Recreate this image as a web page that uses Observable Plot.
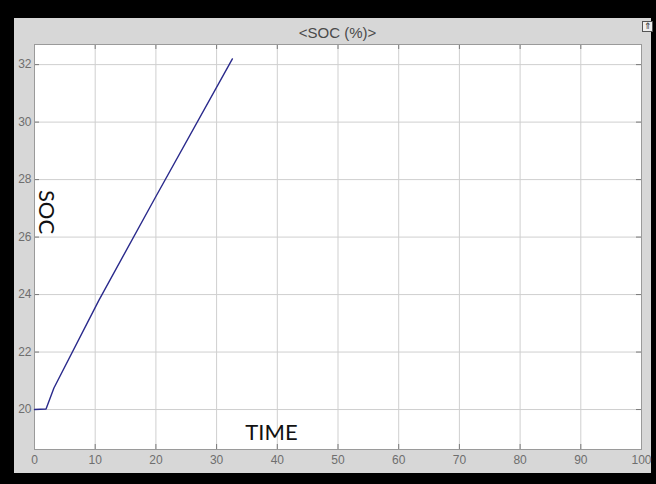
<!DOCTYPE html>
<html><head><meta charset="utf-8">
<script src="https://cdn.jsdelivr.net/npm/d3@7"></script>
<script src="https://cdn.jsdelivr.net/npm/@observablehq/plot@0.6"></script>
<style>
html,body{margin:0;padding:0;background:#000;}
#wrap{position:relative;width:656px;height:484px;background:#000;overflow:hidden;}
#panel{position:absolute;left:14px;top:18px;width:637px;height:455px;background:#d7d7d7;}
#title{position:absolute;left:34px;width:607px;top:24px;text-align:center;font:15px "Liberation Sans",Arial,sans-serif;color:#4a4a4a;}
#icon{position:absolute;left:642px;top:21px;width:9px;height:9px;border:1px solid #555;background:#eee;font:9px "DejaVu Sans",sans-serif;line-height:9px;text-align:center;color:#222;}
#chart{position:absolute;left:0;top:0;}
</style></head>
<body><div id="wrap"><div id="panel"></div><div id="title">&lt;SOC (%)&gt;</div><div id="icon">⇑</div><div id="chart"></div></div>
<script>
const time = [0, 1.9, 3.2, 10.6, 19.7, 32.6];
const soc = [20, 20.02, 20.75, 23.8, 27.3, 32.2];
const xTicks = [0, 10, 20, 30, 40, 50, 60, 70, 80, 90, 100];
const yTicks = [20, 22, 24, 26, 28, 30, 32];
const xLabel = "TIME";
const yLabel = "SOC";

const data = time.map((t, i) => ({t, v: soc[i]}));
const fw = 607, fh = 405;

const chart = Plot.plot({
  width: 656, height: 484,
  marginLeft: 34, marginRight: 15, marginTop: 44, marginBottom: 35,
  style: {background: "transparent", fontFamily: "'Liberation Sans', Arial, sans-serif", overflow: "visible"},
  x: {domain: [0, 100]},
  y: {domain: [18.61, 32.7]},
  marks: [
    Plot.frame({fill: "white", stroke: "none"}),
    Plot.ruleX(xTicks, {x: d => d, stroke: "#cfcfcf", strokeWidth: 1}),
    Plot.ruleY(yTicks, {y: d => d, stroke: "#cfcfcf", strokeWidth: 1}),
    Plot.ruleX(xTicks, {x: d => d, stroke: "#7a7a7a", insetTop: fh - 5}),
    Plot.ruleX(xTicks, {x: d => d, stroke: "#7a7a7a", insetBottom: fh - 5}),
    Plot.ruleY(yTicks, {y: d => d, stroke: "#7a7a7a", insetRight: fw - 5}),
    Plot.ruleY(yTicks, {y: d => d, stroke: "#7a7a7a", insetLeft: fw - 5}),
    Plot.frame({stroke: "#9a9a9a", strokeWidth: 1}),
    Plot.axisX(xTicks, {tickSize: 0, tickPadding: 6, fontSize: 12, fill: "#6e6e6e", label: null}),
    Plot.axisY(yTicks, {tickSize: 0, tickPadding: 3, fontSize: 12, fill: "#6e6e6e", label: null}),
    Plot.line(data, {x: "t", y: "v", stroke: "#2a2a8c", strokeWidth: 1.4}),
    Plot.text([xLabel], {text: d => d, frameAnchor: "bottom-left", dx: 237, dy: -17, textAnchor: "middle", lineAnchor: "middle", fontSize: 22, fontFamily: "Lato", fill: "#111"}),
    Plot.text([yLabel], {text: d => d, frameAnchor: "left", dx: 12, dy: -35, rotate: 90, textAnchor: "middle", lineAnchor: "middle", fontSize: 22, fontFamily: "Lato", fill: "#111"})
  ]
});
document.getElementById("chart").appendChild(chart);
</script>
</body></html>
